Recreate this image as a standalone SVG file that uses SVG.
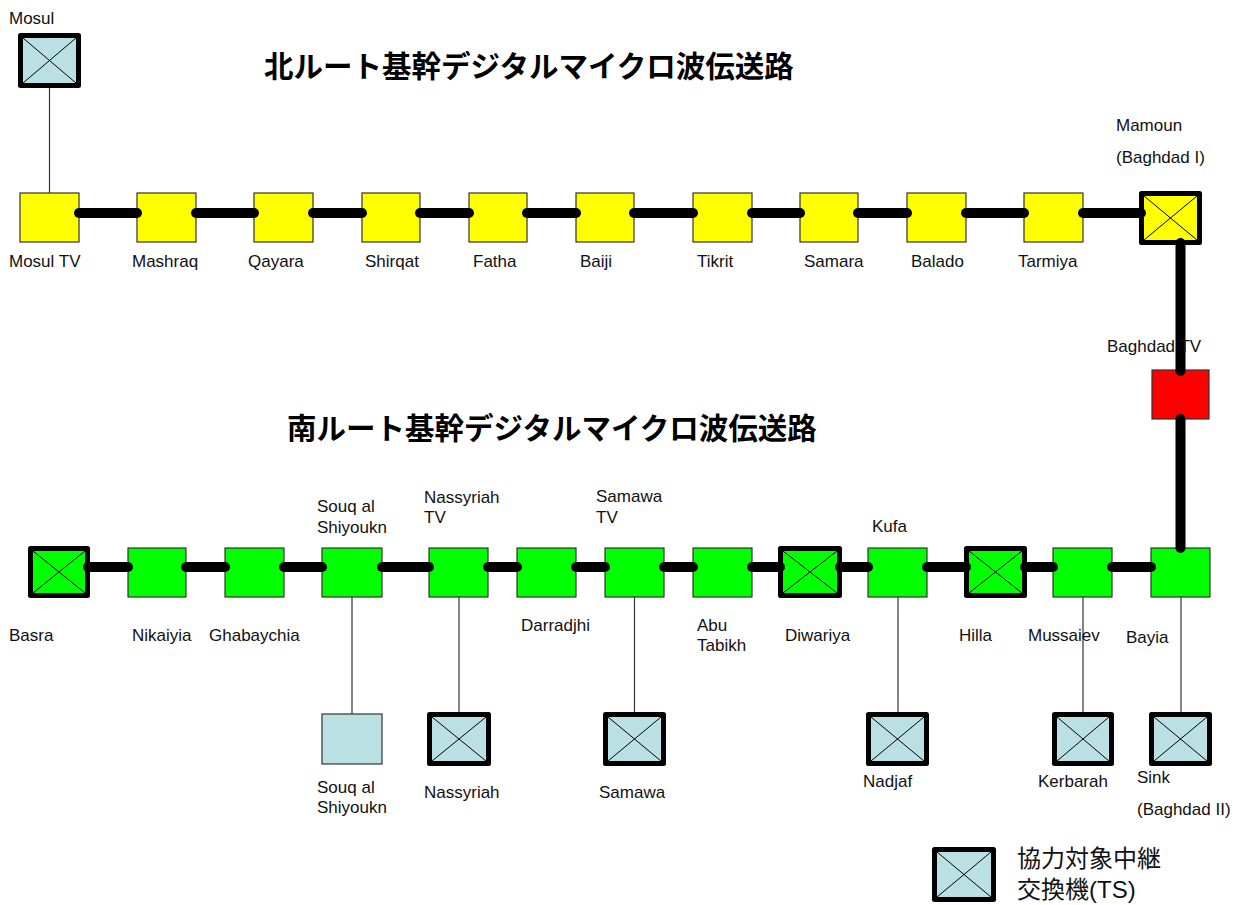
<svg xmlns="http://www.w3.org/2000/svg" width="1237" height="905" viewBox="0 0 1237 905">
<style>
.bx{stroke:#333;stroke-width:1.2}
.yl{fill:#FFFF00}
.gr{fill:#00FF00}
.rd{fill:#FF0000}
.lb{fill:#BBE0E3}
.ts{stroke:#000;stroke-width:5;stroke-linejoin:round}
.x{stroke:#000;stroke-width:1}
.trunk{stroke:#000;stroke-width:10;stroke-linecap:round;fill:none}
.feed{stroke:#333;stroke-width:1.2;fill:none}
.lbl{font-family:"Liberation Sans",Arial,sans-serif;font-size:17px;fill:#111}
.ttl{font-family:"Noto Sans CJK JP","Liberation Sans",sans-serif;font-size:29.5px;font-weight:bold;fill:#000}
.leg{font-family:"Liberation Sans","Noto Sans CJK JP",sans-serif;font-size:24px;fill:#111}
</style>
<rect width="1237" height="905" fill="#fff"/>
<text class="ttl" x="264" y="77">北ルート基幹デジタルマイクロ波伝送路</text>
<text class="ttl" x="287" y="439">南ルート基幹デジタルマイクロ波伝送路</text>

<g id="connectors">
<line class="feed" x1="49.5" y1="88" x2="49.5" y2="193"/>
<line class="feed" x1="352" y1="597" x2="352" y2="714"/>
<line class="feed" x1="459" y1="597" x2="459" y2="712"/>
<line class="feed" x1="634.5" y1="597" x2="634.5" y2="712"/>
<line class="feed" x1="898" y1="597" x2="898" y2="712"/>
<line class="feed" x1="1083" y1="597" x2="1083" y2="712"/>
<line class="feed" x1="1181" y1="597" x2="1181" y2="712"/>
</g>

<g id="n-mosul"><rect class="lb ts" x="20.5" y="35.5" width="58" height="50"/><line class="x" x1="23" y1="38" x2="76" y2="83"/><line class="x" x1="76" y1="38" x2="23" y2="83"/><text class="lbl" x="9" y="24">Mosul</text></g>
<g id="n-mosultv"><rect class="bx yl" x="20" y="193" width="59" height="49"/><text class="lbl" x="9" y="267">Mosul TV</text></g>
<g id="n-mashraq"><rect class="bx yl" x="137" y="193" width="59" height="49"/><text class="lbl" x="132" y="267">Mashraq</text></g>
<g id="n-qayara"><rect class="bx yl" x="254" y="193" width="59" height="49"/><text class="lbl" x="248" y="267">Qayara</text></g>
<g id="n-shirqat"><rect class="bx yl" x="362" y="193" width="58" height="49"/><text class="lbl" x="365" y="267">Shirqat</text></g>
<g id="n-fatha"><rect class="bx yl" x="469" y="193" width="58" height="49"/><text class="lbl" x="473" y="267">Fatha</text></g>
<g id="n-baiji"><rect class="bx yl" x="576" y="193" width="58" height="49"/><text class="lbl" x="580" y="267">Baiji</text></g>
<g id="n-tikrit"><rect class="bx yl" x="693" y="193" width="59" height="49"/><text class="lbl" x="697" y="267">Tikrit</text></g>
<g id="n-samara"><rect class="bx yl" x="800" y="193" width="58" height="49"/><text class="lbl" x="804" y="267">Samara</text></g>
<g id="n-balado"><rect class="bx yl" x="907" y="193" width="59" height="49"/><text class="lbl" x="911" y="267">Balado</text></g>
<g id="n-tarmiya"><rect class="bx yl" x="1024" y="193" width="59" height="49"/><text class="lbl" x="1018" y="267">Tarmiya</text></g>
<g id="n-mamoun"><rect class="yl ts" x="1141.5" y="193.5" width="58" height="49"/><line class="x" x1="1144" y1="196" x2="1197" y2="240"/><line class="x" x1="1197" y1="196" x2="1144" y2="240"/><text class="lbl" x="1116" y="131">Mamoun</text><text class="lbl" x="1116" y="163">(Baghdad I)</text></g>
<g id="n-baghdadtv"><rect class="bx rd" x="1152" y="370" width="57" height="49"/></g>

<g id="n-basra"><rect class="gr ts" x="30.5" y="548.5" width="57" height="47"/><line class="x" x1="33" y1="551" x2="85" y2="593"/><line class="x" x1="85" y1="551" x2="33" y2="593"/><text class="lbl" x="9" y="641">Basra</text></g>
<g id="n-nikaiyia"><rect class="bx gr" x="128" y="548" width="58" height="49"/><text class="lbl" x="132" y="641">Nikaiyia</text></g>
<g id="n-ghabaychia"><rect class="bx gr" x="225" y="548" width="59" height="49"/><text class="lbl" x="209" y="641">Ghabaychia</text></g>
<g id="n-souq"><rect class="bx gr" x="322" y="548" width="60" height="49"/><text class="lbl" x="317" y="512">Souq al</text><text class="lbl" x="317" y="533">Shiyoukn</text></g>
<g id="n-nassyriahtv"><rect class="bx gr" x="429" y="548" width="59" height="49"/><text class="lbl" x="424" y="503">Nassyriah</text><text class="lbl" x="424" y="523">TV</text></g>
<g id="n-darradjhi"><rect class="bx gr" x="517" y="548" width="59" height="49"/><text class="lbl" x="521" y="631">Darradjhi</text></g>
<g id="n-samawatv"><rect class="bx gr" x="605" y="548" width="59" height="49"/><text class="lbl" x="596" y="502">Samawa</text><text class="lbl" x="596" y="523">TV</text></g>
<g id="n-abutabikh"><rect class="bx gr" x="693" y="548" width="59" height="49"/><text class="lbl" x="697" y="631">Abu</text><text class="lbl" x="697" y="651">Tabikh</text></g>
<g id="n-diwariya"><rect class="gr ts" x="780.5" y="548.5" width="59" height="47"/><line class="x" x1="783" y1="551" x2="837" y2="593"/><line class="x" x1="837" y1="551" x2="783" y2="593"/><text class="lbl" x="785" y="641">Diwariya</text></g>
<g id="n-kufa"><rect class="bx gr" x="868" y="548" width="59" height="49"/><text class="lbl" x="872" y="532">Kufa</text></g>
<g id="n-hilla"><rect class="gr ts" x="966.5" y="548.5" width="58" height="47"/><line class="x" x1="969" y1="551" x2="1022" y2="593"/><line class="x" x1="1022" y1="551" x2="969" y2="593"/><text class="lbl" x="959" y="641">Hilla</text></g>
<g id="n-mussaiev"><rect class="bx gr" x="1053" y="548" width="59" height="49"/></g>
<g id="n-bayia"><rect class="bx gr" x="1151" y="548" width="59" height="49"/><text class="lbl" x="1126" y="643">Bayia</text></g>

<g id="n-souq2"><rect class="bx lb" x="322" y="714" width="60" height="50"/><text class="lbl" x="317" y="793">Souq al</text><text class="lbl" x="317" y="813">Shiyoukn</text></g>
<g id="n-nassyriah"><rect class="lb ts" x="429.5" y="714.5" width="59" height="49"/><line class="x" x1="432" y1="717" x2="486" y2="761"/><line class="x" x1="486" y1="717" x2="432" y2="761"/><text class="lbl" x="424" y="798">Nassyriah</text></g>
<g id="n-samawa"><rect class="lb ts" x="605.5" y="714.5" width="58" height="49"/><line class="x" x1="608" y1="717" x2="661" y2="761"/><line class="x" x1="661" y1="717" x2="608" y2="761"/><text class="lbl" x="599" y="798">Samawa</text></g>
<g id="n-nadjaf"><rect class="lb ts" x="868.5" y="714.5" width="58" height="49"/><line class="x" x1="871" y1="717" x2="924" y2="761"/><line class="x" x1="924" y1="717" x2="871" y2="761"/><text class="lbl" x="863" y="787">Nadjaf</text></g>
<g id="n-kerbarah"><rect class="lb ts" x="1054.5" y="714.5" width="57" height="49"/><line class="x" x1="1057" y1="717" x2="1109" y2="761"/><line class="x" x1="1109" y1="717" x2="1057" y2="761"/><text class="lbl" x="1038" y="787">Kerbarah</text></g>
<g id="n-sink"><rect class="lb ts" x="1151.5" y="714.5" width="58" height="49"/><line class="x" x1="1154" y1="717" x2="1207" y2="761"/><line class="x" x1="1207" y1="717" x2="1154" y2="761"/><text class="lbl" x="1137" y="783">Sink</text><text class="lbl" x="1137" y="815">(Baghdad II)</text></g>

<g id="trunks">
<line class="trunk" x1="79" y1="213" x2="137" y2="213"/>
<line class="trunk" x1="196" y1="213" x2="254" y2="213"/>
<line class="trunk" x1="313" y1="213" x2="362" y2="213"/>
<line class="trunk" x1="420" y1="213" x2="469" y2="213"/>
<line class="trunk" x1="527" y1="213" x2="576" y2="213"/>
<line class="trunk" x1="634" y1="213" x2="693" y2="213"/>
<line class="trunk" x1="752" y1="213" x2="800" y2="213"/>
<line class="trunk" x1="858" y1="213" x2="907" y2="213"/>
<line class="trunk" x1="966" y1="213" x2="1024" y2="213"/>
<line class="trunk" x1="1083" y1="213" x2="1141" y2="213"/>
<line class="trunk" x1="1180.5" y1="243" x2="1180.5" y2="371"/>
<line class="trunk" x1="1180.5" y1="419" x2="1180.5" y2="548"/>
<line class="trunk" x1="88" y1="567" x2="128" y2="567"/>
<line class="trunk" x1="186" y1="567" x2="225" y2="567"/>
<line class="trunk" x1="284" y1="567" x2="322" y2="567"/>
<line class="trunk" x1="382" y1="567" x2="429" y2="567"/>
<line class="trunk" x1="488" y1="567" x2="517" y2="567"/>
<line class="trunk" x1="576" y1="567" x2="605" y2="567"/>
<line class="trunk" x1="664" y1="567" x2="693" y2="567"/>
<line class="trunk" x1="752" y1="567" x2="780" y2="567"/>
<line class="trunk" x1="840" y1="567" x2="868" y2="567"/>
<line class="trunk" x1="927" y1="567" x2="966" y2="567"/>
<line class="trunk" x1="1025" y1="567" x2="1053" y2="567"/>
<line class="trunk" x1="1112" y1="567" x2="1151" y2="567"/>
</g>

<g id="overlay-labels">
<text class="lbl" x="1107" y="352">Baghdad TV</text>
<text class="lbl" x="1028" y="641">Mussaiev</text>
</g>

<g id="legend">
<rect class="lb ts" x="934.5" y="849.5" width="59" height="50"/><line class="x" x1="937" y1="852" x2="991" y2="897"/><line class="x" x1="991" y1="852" x2="937" y2="897"/>
<text class="leg" x="1017" y="867">協力対象中継</text>
<text class="leg" x="1017" y="898">交換機(TS)</text>
</g>
</svg>
